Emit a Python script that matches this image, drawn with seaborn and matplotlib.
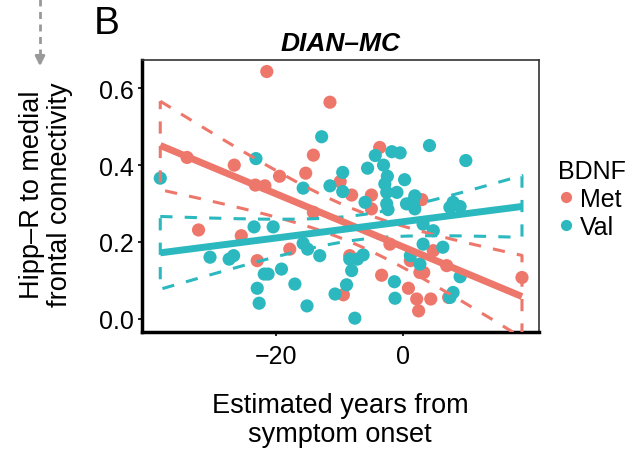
import matplotlib
matplotlib.use("Agg")
import matplotlib.pyplot as plt
from matplotlib.lines import Line2D
import numpy as np
import pandas as pd
import seaborn as sns

# values
met_years = [-21.4, -11.5, -33.9, -26.5, -23.2, -21.7, -14.1, -19.4, -15.3, -3.7,
             -9.9, -8.1, -5.0, -32.1, -25.4, -22.9, -5.0, -17.8, -8.4, -9.4,
             -3.4, -2.1, 4.7, 1.1, 2.6, 3.2, 6.8, 18.6, 7.1, 2.1,
             4.3, 2.4, 0.8, 2.9, -14.1]
met_conn = [0.644, 0.564, 0.420, 0.400, 0.348, 0.346, 0.426, 0.371, 0.379, 0.446,
            0.357, 0.322, 0.322, 0.231, 0.216, 0.151, 0.286, 0.181, 0.164, 0.062,
            0.113, 0.194, 0.177, 0.151, 0.120, 0.120, 0.138, 0.107, 0.055, 0.051,
            0.051, 0.020, 0.079, 0.310, 0.277]

val_years = [-38.1, -23.1, -12.8, -15.7, -1.8, -0.5, -4.4, -5.6, -3.1, -2.5,
             -9.5, -11.5, -9.5, -2.9, 4.1, 9.8, 0.2, -2.6, -1.0, 1.8,
             -6.0, -2.6, -2.4, 0.5, 1.6, 1.8, 7.8, 7.3, 3.1, -23.4,
             -20.4, -30.3, -27.3, -26.6, -21.8, -21.2, -22.9, -22.6, -19.1, -17.0,
             -15.1, -15.7, -15.0, -13.1, -8.4, -7.2, -6.3, -8.1, -8.9, -10.7,
             -7.6, -1.4, -1.3, 4.7, 3.1, 6.2, 1.1, 2.6, 8.9, 7.8,
             7.3, 8.9]
val_conn = [0.366, 0.417, 0.474, 0.340, 0.435, 0.432, 0.425, 0.392, 0.400, 0.371,
            0.381, 0.346, 0.331, 0.351, 0.451, 0.412, 0.362, 0.329, 0.329, 0.320,
            0.303, 0.299, 0.284, 0.299, 0.307, 0.286, 0.303, 0.290, 0.246, 0.239,
            0.239, 0.160, 0.155, 0.164, 0.116, 0.116, 0.079, 0.040, 0.129, 0.090,
            0.033, 0.196, 0.181, 0.164, 0.155, 0.155, 0.166, 0.125, 0.088, 0.064,
            0.001, 0.096, 0.053, 0.229, 0.194, 0.186, 0.164, 0.142, 0.109, 0.068,
            0.055, 0.292]

groups = ["Met", "Val"]
colors = {"Met": "#EE776C", "Val": "#2CB8BF"}

df = pd.DataFrame({
    "years": met_years + val_years,
    "conn": met_conn + val_conn,
    "BDNF": ["Met"] * len(met_years) + ["Val"] * len(val_years),
})

sns.set_style("white")
plt.rcParams["font.family"] = ["Liberation Sans", "DejaVu Sans"]
plt.rcParams["text.color"] = "black"
plt.rcParams["xtick.color"] = "black"
plt.rcParams["ytick.color"] = "black"

fig = plt.figure(figsize=(6.36, 4.52), dpi=100)
ax = fig.add_axes([0.2233, 0.2633, 0.6242, 0.6017])

sns.scatterplot(data=df, x="years", y="conn", hue="BDNF", palette=colors,
                hue_order=groups, s=90, linewidth=0, ax=ax, zorder=2)

# linear fit with 95% confidence band, drawn over the full data range
xs = np.linspace(df["years"].min(), df["years"].max(), 100)
for g in groups:
    sub = df[df["BDNF"] == g]
    x = sub["years"].values
    y = sub["conn"].values
    n = len(x)
    b, a = np.polyfit(x, y, 1)
    resid = y - (a + b * x)
    s = np.sqrt(np.sum(resid ** 2) / (n - 2))
    t = 1.96 + 2.4 / (n - 2)
    se = s * np.sqrt(1 / n + (xs - x.mean()) ** 2 / np.sum((x - x.mean()) ** 2))
    fit = a + b * xs
    upper = fit + t * se
    lower = fit - t * se
    px = np.concatenate([xs, xs[::-1], xs[:1]])
    py = np.concatenate([upper, lower[::-1], upper[:1]])
    ax.plot(px, py, color=colors[g], lw=2.2, ls=(0, (4, 4)), zorder=3)
    ax.plot(xs, fit, color=colors[g], lw=5, solid_capstyle="butt", zorder=4)

ax.set_xlim(-40.96, 21.27)
ax.set_ylim(-0.035, 0.674)
ax.set_xticks([-20, 0])
ax.set_yticks([0.0, 0.2, 0.4, 0.6])
ax.set_yticklabels(["0.0", "0.2", "0.4", "0.6"])
ax.tick_params(labelsize=18, length=3, width=1.2, colors="black", pad=3,
               left=True, bottom=True)
ax.tick_params(axis="x", pad=6)
ax.set_xlabel("")
ax.set_ylabel("")

for side in ["left", "bottom"]:
    ax.spines[side].set_linewidth(2.5)
    ax.spines[side].set_color("black")
for side in ["top", "right"]:
    ax.spines[side].set_linewidth(1.2)
    ax.spines[side].set_color("#333333")

ax.set_title("DIAN–MC", fontsize=19, fontweight="bold", fontstyle="italic", pad=7)

fig.text(46 / 636, 0.57, "Hipp–R to medial\nfrontal connectivity", rotation=90,
         ha="center", va="center", fontsize=19.5, linespacing=1.1)
fig.text(0.535, 0.069, "Estimated years from\nsymptom onset", ha="center",
         va="center", fontsize=19.5, linespacing=1.15)
fig.text(107 / 636, 1 - 24 / 452, "B", ha="center", va="center", fontsize=28)

leg = ax.legend(title="BDNF", loc="upper left", bbox_to_anchor=(0.878, 0.645),
                bbox_transform=fig.transFigure, frameon=False, fontsize=18,
                title_fontsize=18, handlelength=0.6, handletextpad=0.25,
                labelspacing=0.15, markerscale=0.85, borderaxespad=0,
                borderpad=0)
leg._legend_box.align = "left"

# grey dashed arrow at top left
fig.add_artist(Line2D([40 / 636, 40 / 636], [1.0, 1 - 55 / 452], color="#999999",
                      lw=2, ls=(0, (2.5, 2)), transform=fig.transFigure))
ax.annotate("", xy=(40 / 636, 1 - 70 / 452), xytext=(40 / 636, 1 - 56 / 452),
            xycoords="figure fraction", textcoords="figure fraction",
            arrowprops=dict(arrowstyle="-|>", color="#999999", lw=2,
                            mutation_scale=14))

fig.savefig("out.png", dpi=100)
